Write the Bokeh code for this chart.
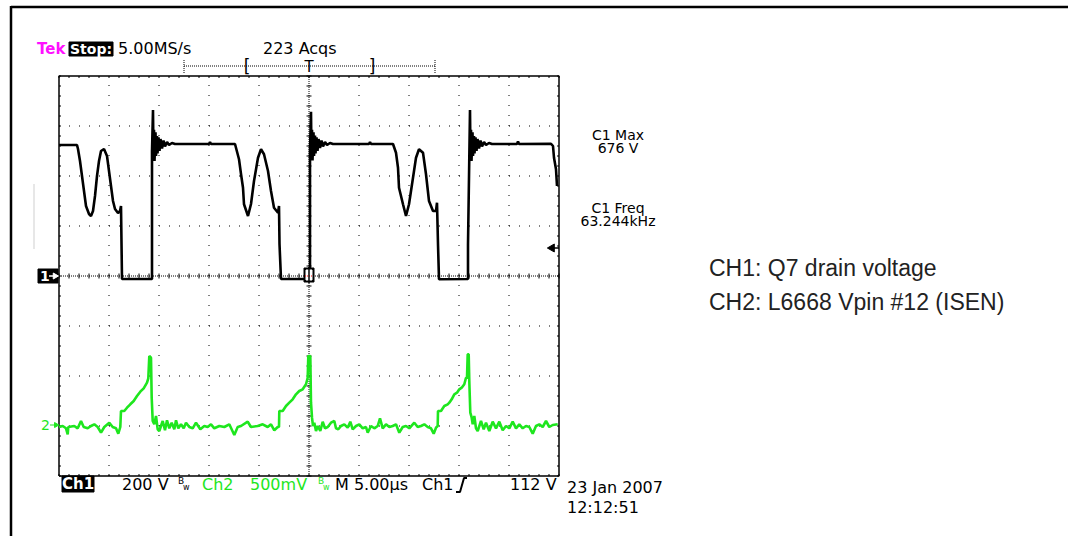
from bokeh.plotting import figure
from bokeh.models import Range1d, Label, ColumnDataSource
from bokeh.embed import file_html
from bokeh.resources import INLINE

# ---------------- data ----------------
ch1_volts_per_div = 200.0
ch2_volts_per_div = 0.5
ch1_offset_div = 0.0
ch2_offset_div = -3.0
trigger_level_v = 112.0
time_per_div_us = 5.0

ch1_time_us = [
    0.0, 1.8, 1.9, 2.1, 2.3, 2.5, 2.7, 3.0, 3.2, 3.4, 3.6, 3.8, 4.0, 4.2, 4.5, 4.8, 5.0, 5.2, 5.4,
    5.6, 5.9, 6.1, 6.2, 6.3, 9.3,
    9.3, 9.4, 9.45, 9.5, 9.55, 9.65, 9.7, 9.8, 9.85, 9.95, 10.05, 10.15, 10.3, 10.45, 10.6, 10.8,
    11.0, 11.3, 11.6, 15.0, 15.1, 15.2, 17.6,
    18.0, 18.2, 18.4, 18.5, 18.9, 19.2, 19.5, 19.9, 20.2, 20.5, 20.9, 21.2, 21.5, 21.9, 22.0, 22.05,
    22.2, 25.1,
    25.1, 25.2, 25.25, 25.3, 25.35, 25.45, 25.5, 25.6, 25.65, 25.75, 25.85, 25.95, 26.1, 26.25,
    26.4, 26.6, 26.8, 27.1, 27.4, 31.0, 31.1, 31.2, 33.4,
    33.7, 33.9, 34.0, 34.4, 34.7, 35.0, 35.4, 35.7, 36.0, 36.4, 36.7, 37.0, 37.4, 37.7, 37.8, 37.9,
    38.0, 40.9,
    40.9, 41.1, 41.15, 41.2, 41.25, 41.35, 41.4, 41.5, 41.55, 41.65, 41.75, 41.85, 42.0, 42.15,
    42.3, 42.5, 42.7, 43.0, 43.3, 45.8, 45.9, 46.0, 49.2, 49.4, 49.5, 49.7, 49.8,
]
ch1_volts = [
    524, 524, 508, 460, 400, 340, 280, 248, 240, 260, 320, 400, 460, 500, 508, 480, 420, 360, 300,
    268, 252, 260, 280, -12, -12,
    500, 664, 470, 585, 460, 575, 480, 560, 490, 555, 500, 548, 510, 542, 518, 536,
    524, 532, 528, 528, 536, 528, 528,
    467, 408, 353, 287, 240, 288, 380, 473, 507, 487, 420, 340, 273, 253, 280, 128,
    -12, -12,
    500, 657, 470, 585, 462, 575, 480, 562, 490, 555, 500, 548, 512, 542,
    518, 536, 524, 532, 528, 528, 536, 528, 528,
    493, 433, 353, 287, 240, 287, 393, 473, 507, 493, 407, 300, 260, 260, 293, 127,
    -13, -12,
    127, 664, 470, 585, 460, 575, 480, 560, 490, 555, 500, 548, 510, 542,
    518, 536, 524, 532, 528, 528, 538, 528, 529, 520, 473, 427, 360,
]

ch2_time_us = [
    0.0, 0.37, 0.7, 0.87, 0.93, 1.53, 1.87, 2.2, 2.47, 2.87, 3.2, 3.53, 3.87, 4.2, 4.53, 5.03,
    5.37, 5.7, 5.93, 6.13,
    6.2, 6.53, 6.8, 7.13, 7.47, 7.8, 8.13, 8.47, 8.8, 8.93, 9.03, 9.2, 9.27, 9.37,
    9.53, 9.7, 9.87, 10.03, 10.37, 10.6, 10.8, 11.03, 11.27, 11.53, 11.7, 11.93, 12.2, 12.47,
    12.7, 13.03, 13.37, 13.7, 14.13, 14.53, 14.87, 15.2, 15.53, 16.03, 16.53, 17.03, 17.53,
    17.87, 18.2, 18.87, 19.2, 19.87, 20.37, 20.87, 21.2, 21.53, 21.87, 22.0,
    22.03, 22.37, 22.7, 23.03, 23.37, 23.7, 24.03, 24.37, 24.7, 24.87, 24.93, 25.13, 25.2, 25.3,
    25.4, 25.53, 25.7, 25.87, 26.13, 26.37, 26.6, 26.87, 27.2, 27.53, 27.7, 27.93, 28.2, 28.53,
    28.87, 29.13, 29.37, 29.7, 30.03, 30.37, 30.7, 30.87, 31.2, 31.53, 31.87, 32.1, 32.37,
    32.7, 33.03, 33.37, 33.7, 34.03, 34.37, 34.7, 35.03, 35.53, 35.87, 36.2, 36.53, 36.87,
    37.2, 37.47, 37.7, 37.87,
    37.9, 38.2, 38.53, 38.87, 39.03, 39.27, 39.53, 39.8, 40.03, 40.27, 40.53, 40.7, 40.8,
    40.87, 40.97, 41.03, 41.13,
    41.27, 41.37, 41.53, 41.7, 41.87, 42.2, 42.47, 42.7, 43.03, 43.37, 43.7, 44.03, 44.37,
    44.7, 45.03, 45.37, 45.7, 46.03, 46.37, 46.7, 47.03, 47.37, 47.7, 48.03, 48.37, 48.7,
    49.03, 49.37, 49.87,
]
ch2_volts = [
    -0.01, 0.0, -0.023, -0.083, -0.01, 0.0, -0.023, 0.05, -0.01, -0.023, 0.0, 0.017, -0.01,
    -0.067, -0.01, 0.033, -0.01, -0.023, -0.077, -0.01,
    0.15, 0.15, 0.183, 0.217, 0.25, 0.30, 0.343, 0.377, 0.433, 0.477, 0.70, 0.683, 0.283, 0.05,
    0.017, 0.10, -0.033, -0.05, 0.05, -0.043, 0.057, -0.023, 0.033, -0.033, 0.057, -0.023,
    0.017, -0.023, 0.033, -0.01, -0.023, 0.033, -0.033, 0.0, -0.01, 0.017, -0.023, 0.0, -0.01,
    0.017, -0.09, -0.01, 0.0, 0.043, -0.01, 0.0, 0.017, -0.01, 0.017, -0.043, -0.01, -0.01,
    0.15, 0.15, 0.20, 0.233, 0.267, 0.317, 0.35, 0.367, 0.417, 0.483, 0.70, 0.70, 0.233, 0.083,
    0.0, 0.033, -0.05, 0.0, -0.05, 0.043, -0.023, -0.01, 0.033, 0.05, -0.023, -0.033, 0.0,
    0.017, -0.017, 0.043, -0.033, 0.0, 0.017, -0.023, -0.01, -0.067, 0.0, -0.023, 0.0, 0.077,
    -0.023, 0.017, -0.01, 0.0, 0.017, -0.067, -0.01, 0.0, -0.023, 0.033, -0.01, 0.0, 0.017,
    -0.01, -0.023, -0.077, -0.017, 0.0,
    0.15, 0.15, 0.20, 0.217, 0.233, 0.267, 0.317, 0.333, 0.367, 0.383, 0.417, 0.483, 0.483,
    0.717, 0.717, 0.45, 0.133,
    0.083, 0.017, 0.10, -0.023, -0.05, 0.05, -0.033, 0.033, -0.05, 0.043, -0.023, 0.043,
    -0.043, 0.0, -0.023, 0.043, -0.023, 0.017, -0.023, 0.0, -0.01, -0.077, 0.0, 0.017, -0.01,
    0.05, -0.01, 0.01, 0.017,
]

header_texts = ["Stop:", "5.00MS/s", "223 Acqs"]
meas_texts = ["C1 Max", "676 V", "C1 Freq", "63.244kHz"]
note_texts = ["CH1: Q7 drain voltage", "CH2: L6668 Vpin #12 (ISEN)"]
date_texts = ["23 Jan 2007", "12:12:51"]

# ---------------- layout (pixel geometry of the screen grab) ----------------
W, H = 1068, 536
PAGE_OFF = 0
GRID_LEFT_PX = 58
GRID_CENTER_Y_PX = 275
PX_PER_US = 50.0 / time_per_div_us
PX_PER_DIV = 50.0


def tx(X):
    return (X - GRID_LEFT_PX) / PX_PER_US


def dy(Y):
    return (GRID_CENTER_Y_PX - Y) / PX_PER_DIV


p = figure(width=W, height=H, output_backend="svg", toolbar_location=None,
           x_axis_type=None, y_axis_type=None, min_border=0,
           x_range=Range1d(tx(PAGE_OFF - 0.5), tx(PAGE_OFF - 0.5 + W)),
           y_range=Range1d(dy(PAGE_OFF - 0.5 + H), dy(PAGE_OFF - 0.5)))
p.outline_line_color = None
p.grid.visible = False
p.background_fill_color = "white"
p.border_fill_color = "white"

GREEN = "#1ee61e"
MAGENTA = "#ff10ff"
SCOPE_FONT = "DejaVu Sans"

# outer page frame
p.line([tx(10), tx(10)], [dy(5), dy(560)], line_color="black", line_width=2.5)
p.line([tx(10), tx(1090)], [dy(6), dy(6)], line_color="black", line_width=2.5)
p.line([tx(33), tx(33)], [dy(183), dy(248)], line_color="#cfcfcf", line_width=1)

# ---------------- graticule ----------------
n_tdiv, n_vdiv = 10, 8
t_end = n_tdiv * time_per_div_us
v_top = n_vdiv / 2
vx, vy = [], []
for i in range(1, n_tdiv):
    if i == n_tdiv // 2:
        continue
    vx.append([i * time_per_div_us] * 2)
    vy.append([-v_top, v_top])
p.multi_line(vx, vy, line_color="black", line_width=1, line_dash="1 9")
hx, hy = [], []
for j in range(-3, 4):
    if j == 0:
        continue
    hx.append([0, t_end])
    hy.append([j, j])
p.multi_line(hx, hy, line_color="black", line_width=1, line_dash="1 9")
p.multi_line([[t_end / 2, t_end / 2], [0, t_end]], [[-v_top, v_top], [0, 0]],
             line_color="black", line_width=1, line_dash="1 1")
tick_us = time_per_div_us / 5
tick_div = 0.2
cx0, cx1, cy0, cy1 = [], [], [], []
k = 0
while k * tick_us <= t_end + 1e-9:
    t = k * tick_us
    cx0.append(t); cx1.append(t); cy0.append(-0.05); cy1.append(0.05)
    cx0.append(t); cx1.append(t); cy0.append(v_top); cy1.append(v_top - 0.04)
    cx0.append(t); cx1.append(t); cy0.append(-v_top); cy1.append(-v_top + 0.04)
    k += 1
k = 0
while -v_top + k * tick_div <= v_top + 1e-9:
    v = -v_top + k * tick_div
    cx0.append(t_end / 2 - 0.25); cx1.append(t_end / 2 + 0.25); cy0.append(v); cy1.append(v)
    cx0.append(0); cx1.append(0.2); cy0.append(v); cy1.append(v)
    cx0.append(t_end); cx1.append(t_end - 0.2); cy0.append(v); cy1.append(v)
    k += 1
p.segment(cx0, cy0, cx1, cy1, line_color="black", line_width=1)
p.line([0, t_end, t_end, 0, 0], [-v_top, -v_top, v_top, v_top, -v_top],
       line_color="black", line_width=1.5)

# ---------------- traces ----------------
src2 = ColumnDataSource(dict(t=ch2_time_us,
                             d=[v / ch2_volts_per_div + ch2_offset_div for v in ch2_volts]))
p.line("t", "d", source=src2, line_color=GREEN, line_width=2.6)
src1 = ColumnDataSource(dict(t=ch1_time_us,
                             d=[v / ch1_volts_per_div + ch1_offset_div for v in ch1_volts]))
p.line("t", "d", source=src1, line_color="black", line_width=2.6)

# trigger position marker on the ground line
p.quad(left=[tx(303)], right=[tx(313)], top=[dy(267)], bottom=[dy(281)], color="black")
p.quad(left=[tx(305)], right=[tx(311)], top=[dy(269)], bottom=[dy(279)], color="white")
p.line([tx(304), tx(312)], [0, 0], line_color="red", line_dash="1 1", line_width=1)
p.line([t_end / 2, t_end / 2], [dy(266), dy(282)], line_color="black", line_width=1.5)

# trigger level arrow
trig_div = trigger_level_v / ch1_volts_per_div + ch1_offset_div
p.scatter([tx(551)], [trig_div], marker="triangle", size=8, angle=1.5708, color="black")
p.line([tx(551), t_end], [trig_div, trig_div], line_color="black", line_width=1.5)


def lbl(X, Y, text, size="16px", color="black", font=SCOPE_FONT, align="left",
        style="normal"):
    p.add_layout(Label(x=tx(X), y=dy(Y), text=text, text_font=font, text_font_size=size,
                       text_color=color, text_align=align, text_baseline="middle",
                       text_font_style=style))


# ---------------- header ----------------
lbl(36, 48, "Tek", size="15px", color=MAGENTA, style="bold")
p.quad(left=[tx(68)], right=[tx(112)], top=[dy(41)], bottom=[dy(55)], color="black")
lbl(90, 48, header_texts[0], size="14px", color="white", style="bold", align="center")
lbl(117, 47, header_texts[1])
lbl(262, 47, header_texts[2])
p.line([tx(183), tx(434)], [dy(65), dy(65)], line_color="black", line_width=1, line_dash="1 1")
p.multi_line([[tx(183), tx(183)], [tx(434), tx(434)]], [[dy(59), dy(72)], [dy(59), dy(72)]],
             line_color="black", line_width=1, line_dash="1 1")
lbl(246, 65, "[", size="17px", align="center")
lbl(371, 65, "]", size="17px", align="center")
lbl(308, 66, "T", size="15px", align="center")

# channel ground markers (arrow drawn as line + small head)
p.quad(left=[tx(37)], right=[tx(57)], top=[dy(268)], bottom=[dy(282)], color="black")
lbl(39, 275, "1", size="14px", color="white", style="bold")
p.line([tx(48), tx(55)], [dy(275), dy(275)], line_color="white", line_width=1.5)
p.scatter([tx(54)], [dy(275)], marker="triangle", size=6, angle=-1.5708, color="white")
lbl(40, 424, "2", size="14px", color=GREEN)
p.line([tx(49), tx(56)], [dy(424), dy(424)], line_color=GREEN, line_width=1.2)
p.scatter([tx(55)], [dy(424)], marker="triangle", size=5, angle=-1.5708, color=GREEN)

# ---------------- measurements ----------------
lbl(617, 134, meas_texts[0], size="14px", align="center")
lbl(617, 147, meas_texts[1], size="14px", align="center")
lbl(617, 207, meas_texts[2], size="14px", align="center")
lbl(617, 220, meas_texts[3], size="14px", align="center")

# ---------------- bottom status line ----------------
p.quad(left=[tx(61)], right=[tx(93)], top=[dy(475)], bottom=[dy(491)], color="black")
lbl(77, 483, "Ch1", size="15px", color="white", style="bold", align="center")
lbl(121, 483, "200 V")
lbl(177, 480, "B", size="9px")
lbl(182, 486, "w", size="8px")
lbl(201, 483, "Ch2", color=GREEN)
lbl(249, 483, "500mV", color=GREEN)
lbl(317, 480, "B", size="9px", color=GREEN)
lbl(322, 486, "w", size="8px", color=GREEN)
lbl(334, 483, "M 5.00µs")
lbl(421, 483, "Ch1")
p.line([tx(455), tx(459), tx(463), tx(466)], [dy(491), dy(491), dy(477), dy(477)],
       line_color="black", line_width=2)
lbl(509, 483, "112 V")
lbl(566, 486, date_texts[0])
lbl(566, 506, date_texts[1])

# ---------------- notes ----------------
lbl(708, 267, note_texts[0], size="23px", color="#222222", font="Liberation Sans")
lbl(708, 301, note_texts[1], size="23px", color="#222222", font="Liberation Sans")

open("out.html", "w").write(file_html(p, INLINE))
